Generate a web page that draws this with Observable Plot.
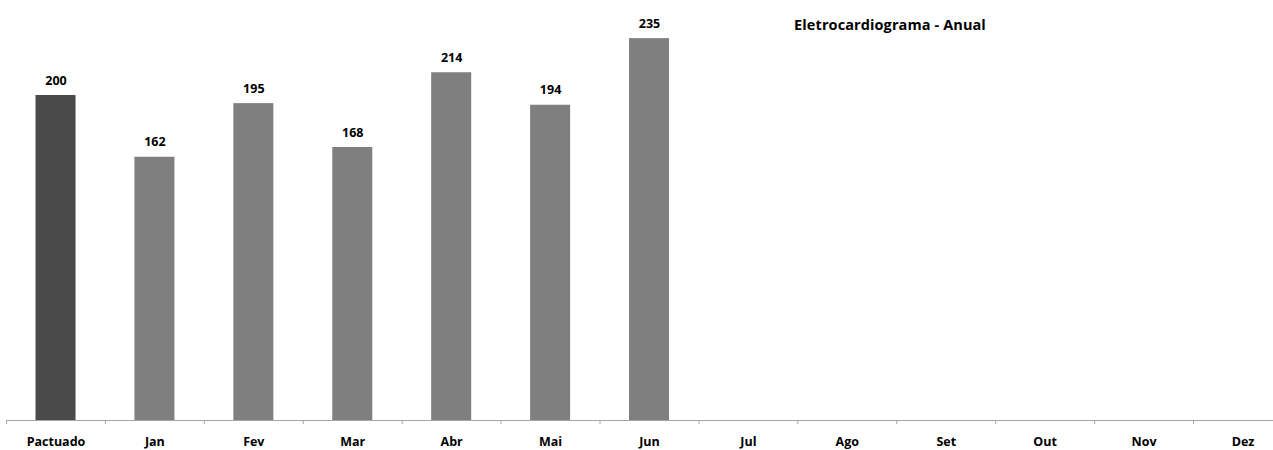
<!DOCTYPE html>
<html>
<head>
<meta charset="utf-8">
<script src="https://cdn.jsdelivr.net/npm/d3@7"></script>
<script src="https://cdn.jsdelivr.net/npm/@observablehq/plot@0.6"></script>
<style>
  html, body { margin: 0; padding: 0; background: #fff; }
  #wrap { position: relative; width: 1273px; height: 450px; overflow: hidden; background: #fff; }
  #title { position: absolute; z-index: 2; left: 740px; width: 300px; top: 15px; text-align: center;
    font: bold 14.5px "Open Sans", Lato, sans-serif; color: #000; white-space: nowrap; letter-spacing: 0.1px; }
</style>
</head>
<body>
<div id="wrap">
  <div id="title">Eletrocardiograma - Anual</div>
</div>
<script>
const categories = ["Pactuado", "Jan", "Fev", "Mar", "Abr", "Mai", "Jun", "Jul", "Ago", "Set", "Out", "Nov", "Dez"];
const values = [200, 162, 195, 168, 214, 194, 235, null, null, null, null, null, null];
const title = "Eletrocardiograma - Anual";

const data = categories.map((c, i) => ({ cat: c, value: values[i], kind: i === 0 ? "pact" : "month" }));
const withValue = data.filter(d => d.value != null);

const step = 98.92;
const x0 = 6;
const font = "'Open Sans', Lato, sans-serif";

const chart = Plot.plot({
  width: 1273,
  height: 450,
  marginLeft: 6,
  marginRight: 0,
  marginTop: 10,
  marginBottom: 30,
  style: { fontFamily: font, background: "transparent" },
  x: { domain: categories, range: [x0, x0 + step * categories.length], padding: 0, round: false },
  y: { domain: [0, 250], range: [420, 420 - 250 * 1.625], axis: null },
  color: { domain: ["pact", "month"], range: ["#4a4a4a", "#7f7f7f"] },
  marks: [
    Plot.barY(withValue, { x: "cat", y: "value", fill: "kind", insetLeft: 29.5, insetRight: 29.4 }),
    Plot.text(withValue, { x: "cat", y: "value", text: d => String(d.value), dy: -15, fontWeight: "bold", fontSize: 12.5, fill: "#000" }),
    Plot.ruleY([0], { stroke: "#a6a6a6", strokeWidth: 1 }),
    Plot.ruleX(categories, { x: d => d, dx: -step / 2, y1: 0, insetBottom: -4, stroke: "#a6a6a6" }),
    Plot.axisX({ tickSize: 0, tickPadding: 17, fontWeight: "bold", fontSize: 12.5, fill: "#000", label: null })
  ]
});
chart.style.position = "absolute";
chart.style.left = "0";
chart.style.top = "0";
chart.style.zIndex = "1";
document.getElementById("wrap").appendChild(chart);
document.getElementById("title").textContent = title;
</script>
</body>
</html>
